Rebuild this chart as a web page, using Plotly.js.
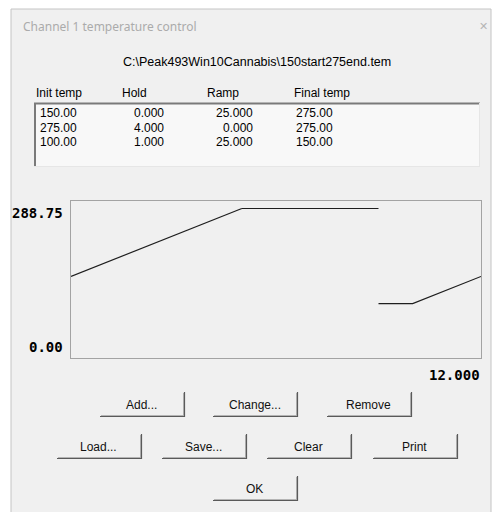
<!DOCTYPE html>
<html>
<head>
<meta charset="utf-8">
<script src="https://cdn.plot.ly/plotly-3.0.1.min.js"></script>
<style>
html,body{margin:0;padding:0;background:#ffffff;}
#chart{width:494px;height:512px;}
</style>
</head>
<body>
<div id="chart"></div>
<script>
// ---- data ----
const windowTitle = 'Channel 1 temperature control';
const filePath = 'C:\\Peak493Win10Cannabis\\150start275end.tem';
const columnHeaders = ['Init temp', 'Hold', 'Ramp', 'Final temp'];
const initTemp = [150.00, 275.00, 100.00];
const holdTime = [0.000, 4.000, 1.000];
const rampRate = [25.000, 0.000, 25.000];
const finalTemp = [275.00, 275.00, 150.00];
const yMin = 0.00;
const yMax = 288.75;
const xMax = 12.000;
const buttonRows = [['Add...', 'Change...', 'Remove'], ['Load...', 'Save...', 'Clear', 'Print'], ['OK']];

// ---- temperature profile built from the table rows ----
const profX = [], profY = [];
let t = 0;
for (let i = 0; i < initTemp.length; i++) {
  profX.push(t); profY.push(initTemp[i]);
  t += holdTime[i];
  profX.push(t); profY.push(initTemp[i]);
  if (rampRate[i] > 0) {
    t += (finalTemp[i] - initTemp[i]) / rampRate[i];
    profX.push(t); profY.push(finalTemp[i]);
  }
  profX.push(null); profY.push(null);
}

// ---- layout helpers (pixel -> paper) ----
const L = 71, R = 481, T = 201, B = 358;
const px = x => (x - L) / (R - L);
const py = y => (B - y) / (B - T);
const BG = '#f0f0f0';
const FONT = 'Liberation Sans, Arial, sans-serif';

const shapes = [];
const annotations = [];
function rect(x0, y0, x1, y1, fill, lineColor, lw, layer) {
  shapes.push({type: 'rect', xref: 'paper', yref: 'paper', x0: px(x0), x1: px(x1), y0: py(y1), y1: py(y0),
    fillcolor: fill, line: {color: lineColor || 'rgba(0,0,0,0)', width: lw || 0}, layer: layer || 'above'});
}
function line(x0, y0, x1, y1, color, w) {
  shapes.push({type: 'line', xref: 'paper', yref: 'paper', x0: px(x0), x1: px(x1), y0: py(y0), y1: py(y1),
    line: {color: color, width: w || 1}, layer: 'above'});
}
function text(s, x, y, anchor, opts) {
  opts = opts || {};
  annotations.push({xref: 'paper', yref: 'paper', x: px(x), y: py(y), xanchor: anchor, yanchor: 'middle',
    text: s, showarrow: false, borderpad: 0,
    font: {family: opts.family || FONT, size: opts.size || 12, color: opts.color || '#000000', weight: opts.weight || 'normal'}});
}

// dialog frame
rect(11, 9, 491, 520, BG, '#c4c4c4', 1, 'below');
text(windowTitle, 22, 27, 'left', {family: 'Noto Sans, sans-serif', size: 12, color: '#ababab'});
text('\u2715', 483, 27, 'center', {family: 'DejaVu Sans, sans-serif', size: 11, color: '#b5b5b5'});
text(filePath, 257, 62, 'center', {size: 12.5});

// table headers
const headX = [35, 121, 206, 293];
columnHeaders.forEach((h, i) => text(h, headX[i], 93, 'left', {size: 12}));

// list box
rect(34, 103, 480, 167, '#f8f8f8', null, 0, 'above');
line(34, 103.5, 480, 103.5, '#7a7a7a', 2);
line(35, 103, 35, 167, '#7a7a7a', 2);
line(34, 166.5, 480, 166.5, '#e6e6e6', 1);
line(479.5, 103, 479.5, 167, '#e6e6e6', 1);
const rowY = [113, 127.5, 142];
for (let i = 0; i < initTemp.length; i++) {
  text(initTemp[i].toFixed(2), 39, rowY[i], 'left');
  text(holdTime[i].toFixed(3), 165, rowY[i], 'right');
  text(rampRate[i].toFixed(3), 254, rowY[i], 'right');
  text(finalTemp[i].toFixed(2), 295, rowY[i], 'left');
}

// axis end labels
const boldFont = {family: 'DejaVu Sans Mono, monospace', size: 14, color: '#000000', weight: 'bold'};
annotations.push({xref: 'paper', yref: 'y', x: px(64), y: yMax, xanchor: 'right', yanchor: 'top', yshift: -3,
  text: yMax.toFixed(2), showarrow: false, borderpad: 0, font: boldFont});
annotations.push({xref: 'paper', yref: 'y', x: px(64), y: yMin, xanchor: 'right', yanchor: 'bottom', yshift: 2,
  text: yMin.toFixed(2), showarrow: false, borderpad: 0, font: boldFont});
annotations.push({xref: 'x', yref: 'paper', x: xMax, y: py(375), xanchor: 'right', yanchor: 'middle',
  text: xMax.toFixed(3), showarrow: false, borderpad: 0, font: boldFont});

// buttons (only the shaded bottom/right edges are visible)
const btnX = [[100, 213, 327], [57, 162, 267, 373], [213]];
const btnTop = [392, 434, 476];
const BW = 85, BH = 25;
buttonRows.forEach((row, r) => {
  row.forEach((label, c) => {
    const x0 = btnX[r][c], y0 = btnTop[r], x1 = x0 + BW, y1 = y0 + BH;
    line(x0 + 1, y1 - 1.5, x1 - 1, y1 - 1.5, '#b4b4b4', 1);
    line(x1 - 1.5, y0 + 1, x1 - 1.5, y1 - 1, '#b4b4b4', 1);
    line(x0, y1 - 0.5, x1, y1 - 0.5, '#5a5a5a', 1.2);
    line(x1 - 0.5, y0, x1 - 0.5, y1, '#5a5a5a', 1.2);
    text(label, (x0 + x1) / 2 - 1, y0 + 13, 'center', {size: 12, color: '#111111'});
  });
});

const trace = {
  x: profX, y: profY, type: 'scatter', mode: 'lines', connectgaps: false,
  line: {color: '#1e1e1e', width: 1.2}, hoverinfo: 'skip', showlegend: false
};

const layout = {
  width: 494, height: 512,
  margin: {l: L, r: 494 - R, t: T, b: 512 - B, pad: 0},
  paper_bgcolor: '#ffffff',
  plot_bgcolor: '#f2f2f2',
  showlegend: false,
  xaxis: {range: [0, xMax], showgrid: false, zeroline: false, showticklabels: false, ticks: '',
    showline: true, mirror: true, linecolor: '#a3a3a3', linewidth: 1, fixedrange: true},
  yaxis: {range: [yMin, yMax], showgrid: false, zeroline: false, showticklabels: false, ticks: '',
    showline: true, mirror: true, linecolor: '#a3a3a3', linewidth: 1, fixedrange: true},
  shapes: shapes,
  annotations: annotations
};

Plotly.newPlot('chart', [trace], layout, {staticPlot: true, displayModeBar: false});
</script>
</body>
</html>
